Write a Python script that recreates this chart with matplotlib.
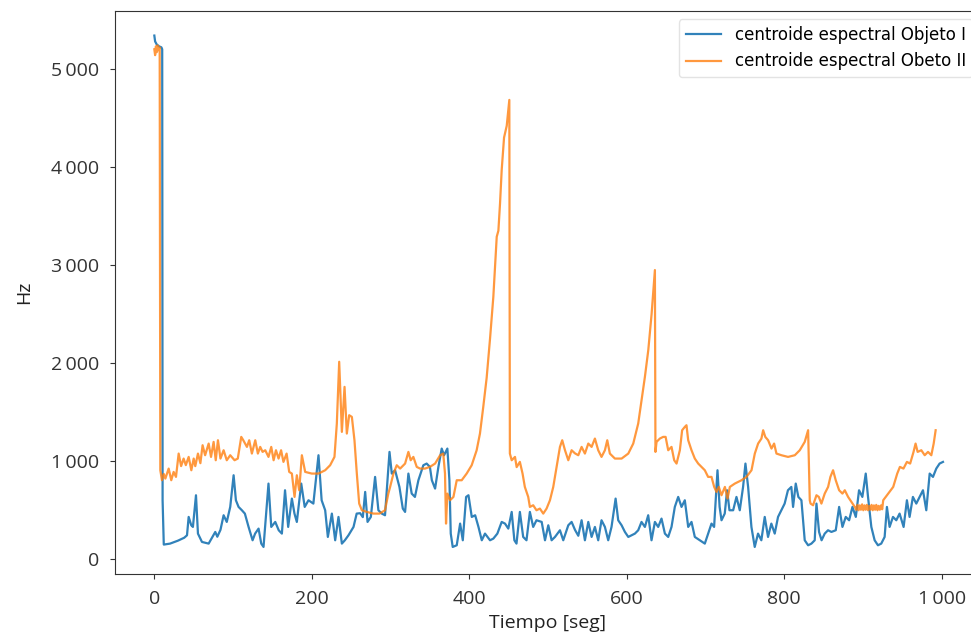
import matplotlib
matplotlib.use("Agg")
import matplotlib.pyplot as plt
from matplotlib.ticker import FuncFormatter, MultipleLocator

# ---------------- data ----------------
t_obj1 = [0, 1, 3, 6, 9, 10, 10.5, 12, 20, 30, 38, 41.5, 43.6, 46.9, 49, 52.9, 55.4, 60.5, 69, 77.4,
          80, 84, 88, 92, 96.4, 100.7, 103.6, 107, 111.2, 115, 119.7, 124.8, 128, 132.4, 135.8, 138.7,
          145, 148.5, 153.6, 158, 162, 166, 170, 174.7, 178, 181, 186.6, 191, 195.8, 202, 208.5, 212.5,
          217, 220.4, 225.5, 229.7, 233.9, 238.2, 242, 246.6, 253, 257, 261.4, 264.8, 267.8, 270.8, 275,
          280.4, 284.6, 288.9, 293, 298.7, 301.6, 305.8, 311.3, 315.6, 318.5, 322.7, 326.9, 331, 335.4,
          341.7, 345.9, 350, 352.5, 356.6, 360.8, 365, 368, 372.2, 374.8, 376.5, 379, 384.1, 388.4, 391.8,
          396, 399, 403.2, 407.5, 411.7, 415.9, 420, 426.4, 430.6, 435.7, 441.2, 445.4, 449.6, 453.9,
          457.3, 460, 464.3, 468.5, 472.7, 477, 481.2, 485.4, 492, 496.2, 500.4, 504.6, 508.9, 515.2,
          519.4, 525.8, 530, 534.3, 538.5, 542.7, 546.9, 551.2, 555.4, 559.6, 563.8, 568, 572.3, 576.5,
          580.7, 585.9, 589.2, 593.5, 597.7, 602, 606.2, 610.4, 614.6, 618.8, 623.1, 627.3, 631.5, 635.8,
          640, 644.2, 648.5, 652.7, 656.9, 661.1, 665.4, 669.6, 673.8, 678.1, 682.3, 686.5, 692.9, 699.2,
          703.4, 707.7, 711, 715.3, 718, 720.4, 724.5, 727.5, 730.5, 735.2, 739.4, 743.6, 747.8, 750.8,
          754.2, 758.4, 762.6, 766.8, 771, 775.3, 779.5, 783.7, 788, 792.2, 796.4, 800.6, 804.8, 809.1,
          811.3, 814.7, 818, 821.9, 826.1, 830.4, 834.6, 838.8, 841, 844.3, 847.5, 851.5, 855.7, 860,
          865.5, 869.8, 874, 878.2, 882.5, 886.7, 891, 895.1, 899.3, 903.6, 906.5, 910.7, 914.9, 919.1,
          923.3, 927.6, 930.5, 933.9, 938.2, 942.4, 946.6, 951.7, 955.9, 959.3, 963.5, 967.8, 972, 976.3,
          980.5, 984.8, 989, 993.2, 997.4, 1001.7]
hz_obj1 = [5340, 5280, 5250, 5230, 5220, 5200, 600, 150, 160, 190, 220, 245, 432, 347, 330, 653, 262, 177, 160, 279,
           230, 300, 449, 381, 534, 857, 602, 534, 500, 466, 330, 194, 262, 313, 160, 126,
           772, 330, 381, 296, 262, 704, 330, 619, 466, 381, 772, 534, 602, 568, 1061, 602,
           500, 228, 466, 194, 432, 160, 194, 245, 330, 466, 470, 430, 687, 381, 432,
           840, 500, 466, 449, 1095, 874, 908, 738, 517, 483, 874, 670, 636, 806,
           959, 976, 942, 806, 721, 942, 1129, 1061, 1129, 806, 262, 126, 143, 364, 194,
           636, 653, 432, 449, 330, 194, 262, 194, 211, 262, 381, 364, 313, 483,
           194, 160, 483, 228, 194, 483, 330, 398, 381, 194, 347, 194, 228, 296,
           194, 347, 381, 300, 240, 398, 194, 381, 228, 330, 194, 398, 330, 194,
           330, 619, 398, 347, 279, 228, 245, 262, 296, 381, 330, 449, 194, 381,
           330, 415, 262, 228, 330, 534, 636, 534, 602, 330, 381, 228, 194, 160,
           262, 364, 330, 908, 534, 398, 466, 704, 500, 500, 636, 500, 738, 976,
           738, 330, 126, 262, 194, 432, 228, 364, 262, 432, 500, 568, 704, 738,
           534, 772, 636, 602, 194, 143, 160, 194, 568, 279, 194, 262, 296, 279,
           296, 534, 330, 432, 398, 534, 432, 704, 636, 874, 636, 330, 194, 143,
           160, 228, 534, 330, 432, 398, 466, 330, 602, 432, 636, 568, 636, 704,
           500, 874, 840, 925, 976, 993]

t_obj2 = [0, 1, 2, 3, 4, 5, 6.8, 7.6, 9.7, 12, 14, 18.2, 21.5, 24.5, 27.5, 30.9, 34, 37.2, 40, 43.6,
          47, 50, 52, 55.4, 58.5, 61.3, 64.5, 69, 72, 75.3, 78, 80.8, 84, 88, 92, 96.4, 101.9, 106,
          110.4, 113, 117.6, 120.5, 123.9, 128.2, 131.5, 134.5, 137.5, 140.9, 145, 148.5, 151.5, 154.5,
          157.8, 161, 164, 168, 171.3, 174.7, 178.1, 181, 184, 187.4, 191.6, 200, 208.5, 217, 223.3,
          228.8, 231.8, 234.8, 238.2, 241.6, 244.5, 247.5, 250.9, 254.2, 257.2, 260.2, 263.6, 269.9,
          278.4, 286, 293, 297.2, 299.5, 303.7, 307.9, 312.2, 318.5, 322.7, 325.6, 329, 333.3, 337.5,
          343.8, 350, 356.6, 363, 367, 369.2, 370.5, 372.2, 375.6, 379.9, 384.1, 390.4, 396.7, 403.1,
          409.4, 413.6, 417.8, 422.1, 426.4, 430.6, 434.9, 437, 439.1, 441.2, 444.2, 447.6, 450.9,
          451.6, 453.9, 458.1, 460.2, 464.3, 467.7, 470.6, 474.9, 477, 481.2, 485.4, 489.7, 494, 498.2,
          502.5, 506.7, 510.9, 515.2, 518.1, 521.6, 525.8, 530, 534.3, 538.5, 542.7, 546.9, 551.2,
          555.4, 559.6, 563.8, 568, 572.3, 575.3, 578.6, 585, 593.5, 602, 608.3, 614.6, 618.8, 623.1,
          627.4, 631.6, 635.8, 636.5, 637.9, 642.1, 646.3, 649.4, 652.7, 656.9, 660.3, 663.3, 667.5,
          670.4, 673.8, 675.9, 678.1, 682.3, 686.5, 690.8, 695, 699.2, 703.4, 707.7, 711.1, 714, 717,
          720.4, 724.7, 728.1, 731, 737.3, 745.8, 752.1, 758.5, 762.7, 766.9, 771.1, 773.3, 776, 779.6,
          783.9, 787.2, 790.2, 796.5, 804.9, 813.5, 819.8, 826.1, 830.4, 832.5, 833.5, 836.7, 841, 844,
          847.3, 851.5, 855.8, 858.7, 862.1, 865.5, 869.8, 874, 877, 881.2, 885.5, 889.7, 891.5, 893,
          894.5, 896, 897.5, 899, 900.5, 902, 903.5, 905, 906.5, 908, 909.5, 911, 912.5, 914, 915.5,
          917, 918.5, 920, 921.5, 923, 924.5, 925.8, 932.2, 938.5, 943.6, 947, 951.5, 955.9, 960,
          964.3, 966.9, 969.5, 974.2, 978.5, 982.7, 986.9, 989.9, 992.4]
hz_obj2 = [5200, 5140, 5230, 5170, 5240, 5190, 5220, 908, 806, 870, 823, 925, 806, 891, 840, 1078, 950, 1027, 960, 1044,
           908, 1027, 950, 1078, 980, 1163, 1061, 1180, 1044, 1197, 1010, 1214, 1027, 1112, 1010, 1061, 1010, 1027,
           1248, 1214, 1146, 1214, 1078, 1214, 1078, 1146, 1095, 1112, 1044, 1146, 1010, 1112,
           1027, 1112, 993, 1078, 891, 874, 636, 857, 704, 1061, 891, 874, 874, 908, 959,
           1044, 1384, 2014, 1299, 1758, 1282, 1469, 1452, 1214, 874, 568, 500, 483,
           466, 466, 500, 670, 738, 874, 959, 925, 976, 1095, 1010, 1044, 942, 925,
           925, 942, 976, 1061, 1078, 874, 364, 670, 602, 636, 806, 806, 874, 959,
           1112, 1282, 1554, 1850, 2250, 2677, 3289, 3350, 3629, 3969, 4300, 4420, 4684,
           1078, 1010, 1044, 940, 993, 874, 738, 636, 534, 551, 500, 517, 466, 517,
           602, 738, 942, 1146, 1214, 1112, 1010, 1112, 1080, 1061, 1146, 1078, 1180,
           1146, 1231, 1112, 1044, 1112, 1214, 1078, 1027, 1027, 1078, 1180, 1384, 1622, 1860,
           2133, 2500, 2949, 1095, 1197, 1231, 1248, 1248, 1112, 1146, 1010, 976, 1112,
           1316, 1350, 1367, 1214, 1112, 1027, 976, 942, 908, 840, 840, 738, 687, 738,
           653, 738, 619, 738, 772, 806, 840, 908, 1078, 1180, 1231, 1316, 1248, 1214,
           1129, 1180, 1078, 1061, 1044, 1061, 1112, 1197, 1316, 602, 568, 551, 653, 636,
           568, 670, 738, 840, 908, 806, 704, 670, 704, 636, 585, 534, 505, 555,
           500, 550, 505, 560, 500, 550, 505, 555, 500, 545, 505, 555, 500, 550, 505,
           555, 500, 545, 505, 550, 510, 602, 670, 738, 874, 942, 925, 993, 976,
           1095, 1180, 1095, 1112, 1061, 1095, 1061, 1180, 1316]

labels = ["centroide espectral Objeto I", "centroide espectral Obeto II"]
x_label = "Tiempo [seg]"
y_label = "Hz"

# ---------------- figure ----------------
fig = plt.figure(figsize=(9.71, 6.38), dpi=100)
ax = fig.add_axes([0.1184, 0.1003, 0.8919, 0.8824])

ax.plot(t_obj1, hz_obj1, color="#1f77b4", lw=1.6, alpha=0.92, label=labels[0])
ax.plot(t_obj2, hz_obj2, color="#ff7f0e", lw=1.6, alpha=0.8, label=labels[1])

ax.set_xlim(-50, 1050)
ax.set_ylim(-150, 5590)
ax.xaxis.set_major_locator(MultipleLocator(200))
ax.yaxis.set_major_locator(MultipleLocator(1000))

def thousands(v, pos):
    s = f"{int(round(v)):,}"
    return s.replace(",", "\u2009")

ax.xaxis.set_major_formatter(FuncFormatter(thousands))
ax.yaxis.set_major_formatter(FuncFormatter(thousands))

tick_font = ["Open Sans", "DejaVu Sans"]
for lab in ax.get_yticklabels() + ax.get_xticklabels():
    lab.set_fontfamily(tick_font)
    lab.set_fontsize(14)
    lab.set_color("#222222")

ax.set_xlabel(x_label, fontsize=14, family=tick_font, color="#222222", labelpad=4)
ax.set_ylabel(y_label, fontsize=14, family=tick_font, color="#222222", labelpad=13)

for side in ["left", "bottom", "top", "right"]:
    ax.spines[side].set_color("#333333")
ax.tick_params(colors="#333333", length=3.5, pad=8)

leg = ax.legend(loc="upper right", prop={"family": "DejaVu Sans", "size": 12},
                handlelength=2.15, frameon=True, fancybox=True, framealpha=0.8,
                edgecolor="#dddddd")

fig.savefig("out.png", dpi=100)
